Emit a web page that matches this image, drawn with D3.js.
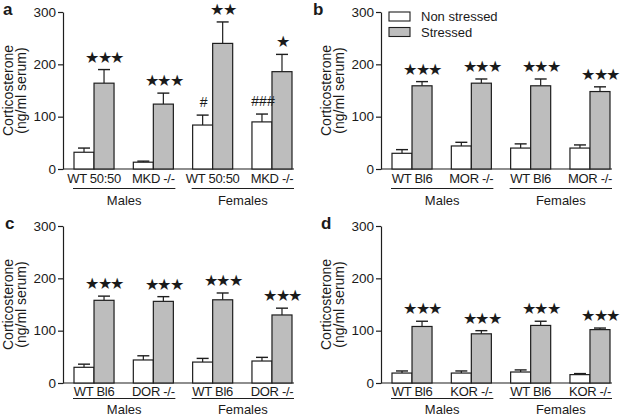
<!DOCTYPE html>
<html>
<head>
<meta charset="utf-8">
<script src="https://cdn.jsdelivr.net/npm/d3@7"></script>
<style>
  html, body { margin: 0; padding: 0; background: #fff; }
  svg { display: block; }
  text { font-family: "Liberation Sans", Arial, Helvetica, sans-serif; fill: #1a1a1a; }
</style>
</head>
<body>
<svg id="chart" width="621" height="419"></svg>
<script>
// ---------- data ----------
const sexes = ["Males", "Females"];
const series = ["Non stressed", "Stressed"];
const yTicks = [0, 100, 200, 300];

const catsA = ["WT 50:50", "MKD -/-", "WT 50:50", "MKD -/-"];
const nsA = [32, 13, 84, 90];
const nsErrA = [8, 2, 19, 15];
const stA = [164, 124, 240, 186];
const stErrA = [26, 21, 41, 33];
const sigA = ["★★★", "★★★", "★★", "★"];
const hashA = ["", "", "#", "###"];

const catsB = ["WT Bl6", "MOR -/-", "WT Bl6", "MOR -/-"];
const nsB = [30, 44, 40, 40];
const nsErrB = [7, 7, 8, 6];
const stB = [159, 164, 159, 148];
const stErrB = [8, 8, 13, 9];
const sigB = ["★★★", "★★★", "★★★", "★★★"];

const catsC = ["WT Bl6", "DOR -/-", "WT Bl6", "DOR -/-"];
const nsC = [30, 44, 40, 42];
const nsErrC = [6, 8, 7, 7];
const stC = [158, 156, 159, 130];
const stErrC = [8, 9, 13, 13];
const sigC = ["★★★", "★★★", "★★★", "★★★"];

const catsD = ["WT Bl6", "KOR -/-", "WT Bl6", "KOR -/-"];
const nsD = [19, 19, 21, 16];
const nsErrD = [4, 4, 4, 2];
const stD = [108, 94, 110, 102];
const stErrD = [10, 6, 8, 3];
const sigD = ["★★★", "★★★", "★★★", "★★★"];

// ---------- drawing ----------
const svg = d3.select("#chart");
const INK = "#1e1e1e";
const GRAY = "#bdbdbd";

function drawPanel(p) {
  const g = svg.append("g");
  const ax = p.axisX, top = p.top, base = p.top + 157;

  const y = d3.scaleLinear().domain([0, 300]).range([base, top]);
  const x0 = d3.scaleBand().domain(d3.range(p.cats.length))
    .range([ax + 11, ax + 229]).paddingInner(0.325).paddingOuter(0);
  const x1 = d3.scaleBand().domain(series).range([0, x0.bandwidth()]).padding(0);

  // y axis
  const yAxis = d3.axisLeft(y).tickValues(yTicks).tickSize(5).tickSizeOuter(0).tickPadding(2);
  const ya = g.append("g").attr("transform", `translate(${ax},0)`).call(yAxis);
  ya.select(".domain").attr("stroke", INK).attr("stroke-width", 1.2);
  ya.selectAll(".tick line").attr("stroke", INK).attr("stroke-width", 1.2);
  ya.selectAll(".tick text").attr("font-size", 13.5).attr("fill", INK)
    .attr("font-family", '"Liberation Sans", Arial, sans-serif');

  // x axis line
  g.append("line").attr("x1", ax).attr("x2", ax + 231)
    .attr("y1", base).attr("y2", base).attr("stroke", INK).attr("stroke-width", 1.2);

  // y title
  const t = g.append("text")
    .attr("transform", `translate(${ax - 50},${(top + base) / 2}) rotate(-90)`)
    .attr("text-anchor", "middle").attr("font-size", 14);
  t.append("tspan").attr("x", 0).attr("y", 0).text("Corticosterone");
  t.append("tspan").attr("x", 0).attr("y", 12.5).text("(ng/ml serum)");

  // panel letter
  g.append("text").attr("x", p.letterX).attr("y", top + 3)
    .attr("font-size", 17).attr("font-weight", "bold").text(p.letter);

  const rows = p.cats.map((c, i) => ({
    i, cat: c,
    vals: [
      { s: series[0], v: p.ns[i], e: p.nsErr[i] },
      { s: series[1], v: p.st[i], e: p.stErr[i] }
    ]
  }));

  const grp = g.selectAll(".grp").data(rows).join("g")
    .attr("transform", d => `translate(${x0(d.i)},0)`);

  // error bars
  const cap = 6;
  grp.selectAll(".err").data(d => d.vals).join("g").each(function (d) {
    const cx = x1(d.s) + x1.bandwidth() / 2;
    const e = d3.select(this);
    e.append("line").attr("x1", cx).attr("x2", cx)
      .attr("y1", y(d.v)).attr("y2", y(d.v + d.e))
      .attr("stroke", INK).attr("stroke-width", 1.2);
    e.append("line").attr("x1", cx - cap).attr("x2", cx + cap)
      .attr("y1", y(d.v + d.e)).attr("y2", y(d.v + d.e))
      .attr("stroke", INK).attr("stroke-width", 1.4);
  });

  // bars
  grp.selectAll("rect").data(d => d.vals).join("rect")
    .attr("x", d => x1(d.s))
    .attr("y", d => y(d.v))
    .attr("width", x1.bandwidth())
    .attr("height", d => y(0) - y(d.v))
    .attr("fill", d => d.s === series[0] ? "#ffffff" : GRAY)
    .attr("stroke", INK).attr("stroke-width", 1.2);

  // significance stars over stressed bars
  grp.append("text")
    .attr("x", x1(series[1]) + x1.bandwidth() / 2)
    .attr("y", d => y(d.vals[1].v + d.vals[1].e) - 7)
    .attr("text-anchor", "middle")
    .attr("font-family", '"DejaVu Sans", sans-serif')
    .attr("font-size", 15.5).attr("letter-spacing", -1.6)
    .attr("fill", "#000")
    .text(d => p.sig[d.i]);

  // hash marks over non-stressed bars
  if (p.hash) {
    grp.append("text")
      .attr("x", x1(series[0]) + x1.bandwidth() / 2 + 1)
      .attr("y", d => y(d.vals[0].v + d.vals[0].e) - 8)
      .attr("text-anchor", "middle").attr("font-size", 14)
      .text(d => p.hash[d.i]);
  }

  // category labels
  grp.append("text")
    .attr("x", x0.bandwidth() / 2)
    .attr("y", base + p.off[0])
    .attr("text-anchor", "middle").attr("font-size", 13)
    .attr("letter-spacing", -0.3)
    .text(d => d.cat);

  // sex grouping underlines and labels
  sexes.forEach((s, k) => {
    const a = x0(2 * k) - 1, b = x0(2 * k + 1) + x0.bandwidth() + 2;
    g.append("line").attr("x1", a).attr("x2", b)
      .attr("y1", base + p.off[1]).attr("y2", base + p.off[1])
      .attr("stroke", INK).attr("stroke-width", 1.1);
    g.append("text").attr("x", (a + b) / 2).attr("y", base + p.off[2])
      .attr("text-anchor", "middle").attr("font-size", 13).text(s);
  });

  // legend
  if (p.legend) {
    const lx = ax + 8;
    series.forEach((s, k) => {
      const ly = top + k * 15.5;
      g.append("rect").attr("x", lx).attr("y", ly).attr("width", 21).attr("height", 9)
        .attr("fill", k === 0 ? "#ffffff" : GRAY).attr("stroke", INK).attr("stroke-width", 1.1);
      g.append("text").attr("x", lx + 32).attr("y", ly + 9).attr("font-size", 13).text(s);
    });
  }
}

const offTop = [14, 19.5, 36];
const offBottom = [12.5, 15.5, 30.5];

drawPanel({ letter: "a", letterX: 3, axisX: 63, top: 12, off: offTop, cats: catsA, ns: nsA, nsErr: nsErrA, st: stA, stErr: stErrA, sig: sigA, hash: hashA });
drawPanel({ letter: "b", letterX: 313, axisX: 381, top: 12, off: offTop, cats: catsB, ns: nsB, nsErr: nsErrB, st: stB, stErr: stErrB, sig: sigB, legend: true });
drawPanel({ letter: "c", letterX: 5, axisX: 63, top: 226, off: offBottom, cats: catsC, ns: nsC, nsErr: nsErrC, st: stC, stErr: stErrC, sig: sigC });
drawPanel({ letter: "d", letterX: 321, axisX: 381, top: 226, off: offBottom, cats: catsD, ns: nsD, nsErr: nsErrD, st: stD, stErr: stErrD, sig: sigD });
</script>
</body>
</html>
